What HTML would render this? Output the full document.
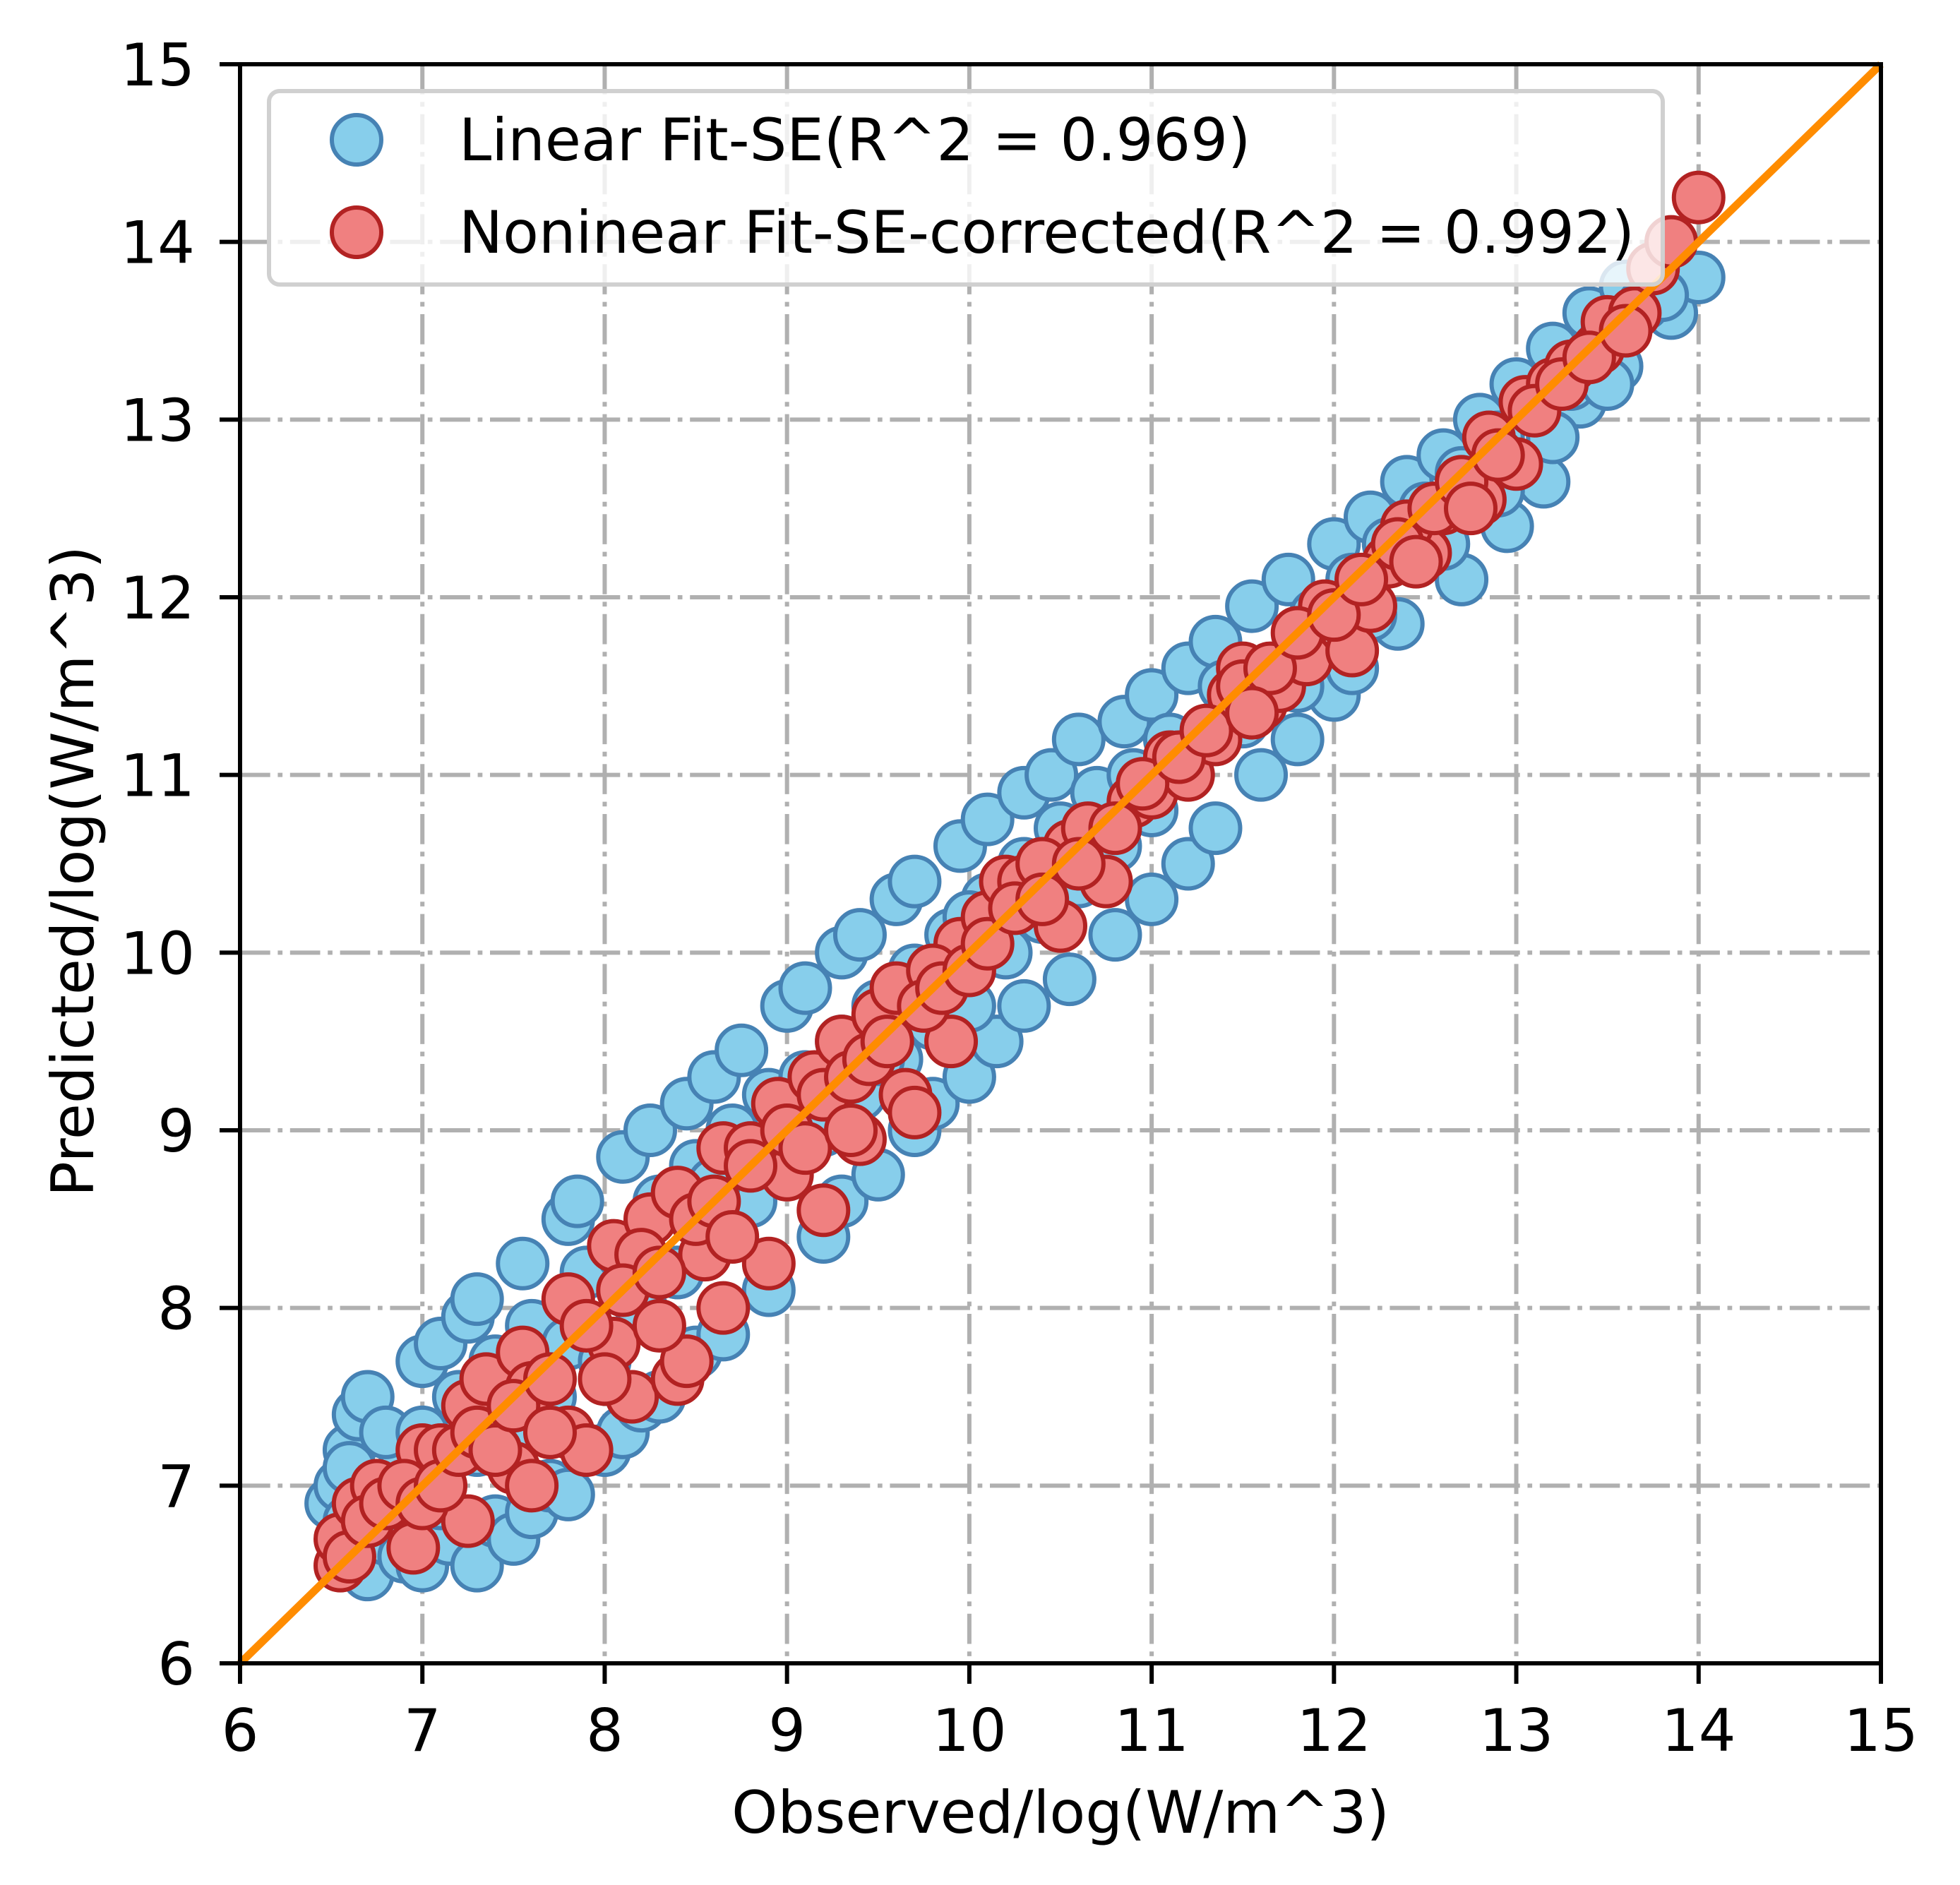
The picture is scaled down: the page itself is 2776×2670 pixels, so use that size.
<!DOCTYPE html>
<html><head><meta charset="utf-8"><style>html,body{margin:0;padding:0;background:#fff}svg{display:block}text{font-family:"DejaVu Sans","Liberation Sans",sans-serif;fill:#000}</style></head>
<body>
<svg id="chart" width="2776" height="2670" viewBox="0 0 2776 2670" xmlns="http://www.w3.org/2000/svg">
<rect width="2776" height="2670" fill="#fff"/>
<g id="grid"></g>
<g id="blue"></g>
<g id="red"></g>
<g id="ref"></g>
<g id="axes"></g>
<g id="legend"></g>
</svg>
<script>
const xTicks=[6,7,8,9,10,11,12,13,14,15];
const yTicks=[6,7,8,9,10,11,12,13,14,15];
const blueObs=[6.5,6.55,6.6,6.65,6.7,6.7,6.8,6.9,7.0,7.0,7.1,7.15,7.25,7.3,7.3,7.4,7.5,7.55,7.6,7.7,7.8,7.8,7.85,8.0,8.1,8.1,8.2,8.25,8.3,8.45,8.5,8.6,8.65,8.75,8.9,9.0,9.1,9.2,9.3,9.3,9.4,9.5,9.6,9.7,9.7,9.8,9.95,10.0,10.1,10.15,10.3,10.3,10.45,10.55,10.6,10.8,10.85,11.0,11.0,11.2,11.2,11.35,11.35,11.55,11.6,11.75,11.8,12.0,12.0,12.1,12.2,12.35,12.4,12.6,12.7,12.8,12.95,13.0,13.15,13.2,13.35,13.4,13.55,13.6,13.85,14.0,6.6,6.9,7.6,8.4,9.0,9.9,10.7,11.5,12.5,13.3,
6.6,6.8,6.9,7.0,7.1,7.2,7.3,7.4,7.5,7.6,7.7,7.8,7.9,8.0,8.1,8.2,8.3,8.4,8.5,8.6,8.7,8.8,8.9,9.0,9.1,9.2,9.3,9.4,9.5,9.6,9.7,9.8,9.9,10.0,10.1,10.2,10.3,10.4,10.5,10.6,10.7,10.8,10.9,11.0,11.1,11.3,11.4,11.5,11.7,11.9,12.1,12.3,12.5,12.7,12.9,13.1,13.3,13.5,13.7,12.6,12.2,11.8,13.2,13.5,13.8,12.9,10.0,9.5,8.6];
const bluePred=[6.9,7.0,7.2,7.4,7.5,6.5,6.7,6.6,7.7,6.55,7.8,6.7,7.95,8.05,6.55,6.8,6.7,8.25,6.85,7.0,8.5,6.95,8.6,7.2,8.85,7.3,7.45,9.0,7.5,9.15,7.75,9.3,7.85,9.45,8.1,9.7,9.8,8.4,10.0,8.6,10.1,8.75,10.3,10.4,9.0,9.15,10.6,9.3,10.75,9.5,10.9,9.7,11.0,9.85,11.2,10.1,11.3,11.45,10.3,11.6,10.5,11.75,10.7,11.95,11.0,12.1,11.2,12.3,11.45,11.6,12.45,11.85,12.65,12.8,12.1,13.0,12.4,13.2,12.65,13.4,13.1,13.6,13.3,13.75,13.6,13.8,7.1,7.2,7.4,8.2,8.9,9.8,10.6,11.4,12.4,13.2,
6.8,7.3,6.9,7.3,6.9,7.5,7.2,7.7,7.3,7.9,7.5,7.8,8.2,7.7,8.3,8.0,8.6,8.2,8.8,8.4,9.0,8.6,9.2,8.8,9.3,9.0,9.5,9.2,9.7,9.4,9.9,9.6,10.1,9.7,10.3,10.0,10.5,10.2,10.7,10.4,10.9,10.6,11.0,10.8,11.2,11.2,11.5,11.3,11.6,11.9,12.1,12.3,12.5,12.7,12.9,13.1,13.3,13.5,13.65,12.3,11.9,11.5,12.9,13.2,13.7,12.6,10.2,9.4,8.7];
const redObs=[6.55,6.55,6.65,6.75,6.95,7.0,7.25,7.25,7.35,7.5,7.55,7.6,7.8,7.8,7.9,8.05,8.15,8.05,8.25,8.4,8.45,8.4,8.55,8.65,8.65,8.9,8.95,9.0,9.2,9.15,9.3,9.4,9.5,9.6,9.65,9.7,9.9,9.95,10.1,10.2,10.3,10.5,10.55,10.65,10.75,10.9,11.0,11.1,11.2,11.35,11.45,11.6,11.7,11.85,11.95,12.1,12.2,12.3,12.5,12.6,12.8,12.85,13.0,13.05,13.2,13.3,13.45,13.5,13.65,13.75,13.85,14.0,12.4,11.5,10.4,9.8,8.8,8.2,7.6,7.1,
6.6,6.7,6.8,6.9,7.0,7.1,7.2,7.3,7.4,7.5,7.7,7.7,7.9,8.0,8.1,8.3,8.3,8.5,8.6,8.7,8.8,9.0,9.1,9.2,9.35,9.45,9.55,9.75,9.85,10.0,10.1,10.25,10.4,10.6,10.8,10.95,11.15,11.3,11.5,11.65,11.8,12.0,12.15,12.35,12.55,12.7,12.9,13.1,13.25,13.4,13.6,12.75,12.45,11.55,9.35];
const redPred=[6.55,6.7,6.9,7.0,6.65,7.2,6.8,7.45,7.6,7.1,7.75,7.0,7.3,8.05,7.2,7.8,7.5,8.35,8.5,7.6,7.7,8.65,8.3,8.0,8.9,8.25,9.15,8.75,8.55,9.3,9.5,8.95,9.65,9.8,9.2,9.1,9.5,10.05,10.2,10.4,10.4,10.15,10.6,10.7,10.4,10.85,10.9,11.1,11.0,11.2,11.45,11.4,11.5,11.65,11.95,11.7,11.95,12.2,12.25,12.5,12.55,12.9,12.75,13.1,13.2,13.3,13.4,13.55,13.6,13.85,14.0,14.25,12.4,11.6,10.5,9.9,8.9,8.3,7.55,7.2,
6.6,6.8,6.9,7.0,6.9,7.0,7.2,7.3,7.2,7.45,7.6,7.3,7.9,7.6,8.1,8.2,7.9,8.5,8.6,8.4,8.8,9.0,8.9,9.2,9.3,9.4,9.5,9.7,9.8,9.9,10.05,10.25,10.3,10.5,10.7,10.95,11.1,11.25,11.5,11.6,11.8,11.9,12.1,12.3,12.5,12.65,12.8,13.05,13.2,13.35,13.5,12.5,12.2,11.35,9.0];

const NS="http://www.w3.org/2000/svg";
const L=340,R=2664,T=91,B=2356,X0=6,X1=15,Y0=6,Y1=15;
const sx=v=>L+(v-X0)/(X1-X0)*(R-L);
const sy=v=>B-(v-Y0)/(Y1-Y0)*(B-T);
function mk(tag,attrs,parent){const e=document.createElementNS(NS,tag);for(const k in attrs)e.setAttribute(k,attrs[k]);parent.appendChild(e);return e;}
const grid=document.getElementById('grid');
const dash="42.7 10.7 6.7 10.7";
xTicks.forEach(t=>{const l=mk('line',{x1:sx(t),x2:sx(t),y1:T,y2:B,stroke:'#b0b0b0','stroke-width':6,'stroke-dasharray':dash},grid);

});
yTicks.forEach(t=>{const l=mk('line',{x1:L,x2:R,y1:sy(t),y2:sy(t),stroke:'#b0b0b0','stroke-width':6,'stroke-dasharray':dash},grid);

});
function pts(g,xs,ys,fill,stroke,name){xs.forEach((v,i)=>{const c=mk('circle',{cx:sx(v),cy:sy(ys[i]),r:35,fill:fill,stroke:stroke,'stroke-width':6},g);

});}
pts(document.getElementById('blue'),blueObs,bluePred,'#87CEEB','#4682B4','linear-point');
pts(document.getElementById('red'),redObs,redPred,'#F08080','#B22222','nonlinear-point');
const ref=document.getElementById('ref');
const rl=mk('line',{x1:sx(6),y1:sy(6),x2:sx(15),y2:sy(15),stroke:'#FF8C00','stroke-width':11},ref);


const ax=document.getElementById('axes');
const fr=mk('rect',{x:L,y:T,width:R-L,height:B-T,fill:'none',stroke:'#000','stroke-width':6},ax);


xTicks.forEach(t=>{const tk=mk('line',{x1:sx(t),x2:sx(t),y1:B,y2:B+29,stroke:'#000','stroke-width':6},ax);


const tx=mk('text',{x:sx(t),y:2480,'text-anchor':'middle','font-size':83},ax);tx.textContent=t;

});
yTicks.forEach(t=>{const tk=mk('line',{x1:L-29,x2:L,y1:sy(t),y2:sy(t),stroke:'#000','stroke-width':6},ax);


const tx=mk('text',{x:276,y:sy(t)+30,'text-anchor':'end','font-size':83},ax);tx.textContent=t;

});
const xl=mk('text',{x:(L+R)/2,y:2596,'text-anchor':'middle','font-size':83},ax);xl.textContent='Observed/log(W/m^3)';


const yl=mk('text',{x:0,y:0,'text-anchor':'middle','font-size':83,transform:'translate(132,1234) rotate(-90)'},ax);yl.textContent='Predicted/log(W/m^3)';


const lg=document.getElementById('legend');
const box=mk('rect',{x:381,y:129,width:1974,height:274,rx:15,fill:'#fff','fill-opacity':0.8,stroke:'#d0d0d0','stroke-width':6},lg);


[['#87CEEB','#4682B4',198,'Linear Fit-SE(R^2 = 0.969)'],['#F08080','#B22222',329,'Noninear Fit-SE-corrected(R^2 = 0.992)']].forEach((e,i)=>{
const c=mk('circle',{cx:505,cy:e[2],r:35,fill:e[0],stroke:e[1],'stroke-width':6},lg);


const t=mk('text',{x:650,y:e[2]+29,'font-size':83},lg);t.textContent=e[3];

});
</script>
</body></html>
